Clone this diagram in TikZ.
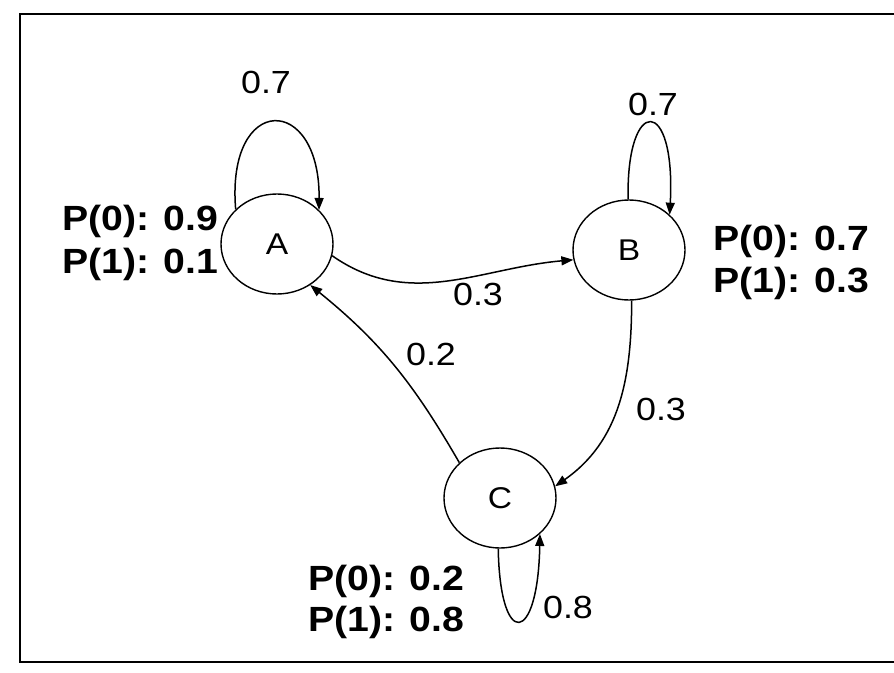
\documentclass[tikz,border=0pt]{standalone}
\usepackage{fontspec}
\setmainfont{Liberation Sans}[FakeStretch=1.12]
\usetikzlibrary{arrows.meta,shapes.geometric}
\begin{document}
\begin{tikzpicture}[x=1pt,y=1pt,
  state/.style={ellipse, draw, line width=1.4pt, minimum width=112pt,
    minimum height=100pt, inner sep=0pt, font=\fontsize{30}{34}\selectfont},
  trans/.style={line width=1.5pt, -{Triangle[length=12pt,width=9pt]}},
  prob/.style={font=\fontsize{32}{38}\selectfont, inner sep=0pt},
  emit/.style={font=\fontsize{35}{42}\selectfont\bfseries, inner sep=0pt,
    anchor=base west},
]
\useasboundingbox (0,0) rectangle (894,-672);

% open frame (no right side)
\draw[line width=2pt] (894,-14) -- (20,-14) -- (20,-662) -- (894,-662);

% states
\node[state] (A) at (277,-244) {A};
\node[state] (B) at (629,-250) {B};
\node[state] (C) at (500,-498) {C};

% self loops
\draw[trans] (A.140) .. controls (226,-93) and (320,-93) .. (A.39);
\draw[trans] (B.91) .. controls (626,-95) and (676,-95) .. (B.41);
\draw[trans] (C.-92) .. controls (500,-650) and (538,-645) .. (C.-42);

% transitions between states
\draw[trans] (A.-12) to[out=-35,in=185] (B.190);
\draw[trans] (B.-87) to[out=-90,in=35] (C.12);
\draw[trans] (C.139) to[out=120,in=-39] (A.-51);

% transition probabilities
\node[prob] (pAA) at (266,-82) {0.7};
\node[prob] (pBB) at (653,-104) {0.7};
\node[prob] (pCC) at (568,-607) {0.8};
\node[prob] (pAB) at (478,-294) {0.3};
\node[prob] (pCA) at (431,-354) {0.2};
\node[prob] (pBC) at (661,-409) {0.3};

% emission probabilities
\node[emit] (eA0) at (62,-230) {P(0): 0.9};
\node[emit] (eA1) at (62,-273) {P(1): 0.1};
\node[emit] (eB0) at (713,-250) {P(0): 0.7};
\node[emit] (eB1) at (713,-292) {P(1): 0.3};
\node[emit] (eC0) at (308,-590) {P(0): 0.2};
\node[emit] (eC1) at (308,-631) {P(1): 0.8};
\end{tikzpicture}
\end{document}
